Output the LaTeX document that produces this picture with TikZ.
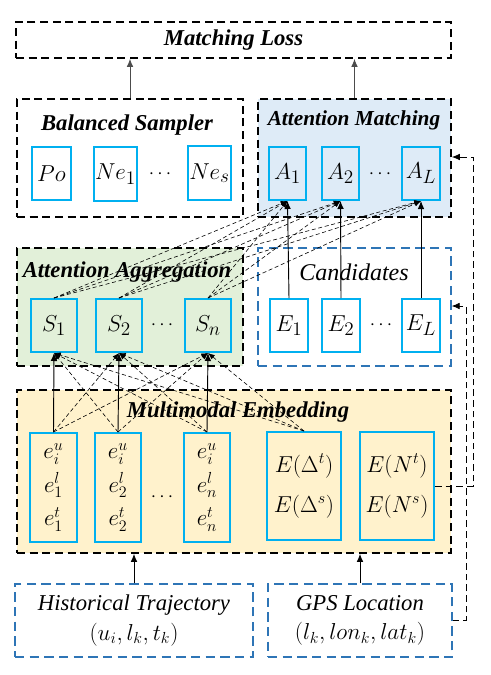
\documentclass[tikz,border=0pt]{standalone}
\usepackage{fontspec}
\setmainfont{Liberation Serif}
\usetikzlibrary{arrows.meta}
\definecolor{cellblue}{RGB}{0,176,240}
\definecolor{inblue}{RGB}{46,117,182}
\definecolor{fillam}{RGB}{222,235,247}
\definecolor{fillaa}{RGB}{226,240,217}
\definecolor{fillme}{RGB}{255,242,204}
\begin{document}
\begin{tikzpicture}[x=0.75pt,y=-0.75pt,
    sz/.style 2 args={minimum width=#1*0.75pt,minimum height=#2*0.75pt,inner sep=0pt},
    grp/.style={draw,line width=1.3pt,dash pattern=on 6pt off 3.5pt},
    inp/.style={draw=inblue,line width=1.1pt,dash pattern=on 7pt off 4pt},
    cell/.style={draw=cellblue,line width=1.5pt,inner sep=0pt,font=\fontsize{19}{22}\selectfont},
    stack/.style={cell,align=center,font=\fontsize{17}{25}\selectfont},
    ttl/.style={font=\fontsize{17}{20}\selectfont\bfseries\itshape},
    txt/.style={font=\fontsize{17}{22}\selectfont,align=center},
    lnk/.style={-{Latex[length=6pt,width=5pt]},line width=0.7pt},
    att/.style={-{Latex[length=5pt,width=4pt]},line width=0.45pt,dash pattern=on 3pt off 2pt},
    fb/.style={-{Latex[length=6pt,width=5pt]},line width=0.6pt,dash pattern=on 5pt off 3pt}]
  \useasboundingbox (0,0) rectangle (490,675);
  % groups
  \node[grp,sz={435}{36}] (loss) at (233.5,40) {};
  \node[ttl] at (loss) {Matching Loss};
  \node[grp,sz={226}{118}] (bs) at (130,158) {};
  \node[grp,fill=fillam,sz={193}{118}] (am) at (354.5,158) {};
  \node[grp,fill=fillaa,sz={226}{118}] (aa) at (130,307) {};
  \node[inp,sz={193}{118}] (cand) at (354.5,307) {};
  \node[grp,fill=fillme,sz={434}{163}] (me) at (234,471.5) {};
  \node[inp,sz={238}{73}] (ht) at (134,620.5) {};
  \node[inp,sz={184}{73}] (gps) at (360,620.5) {};
  \node[ttl] at (127,125) {Balanced Sampler};
  \node[ttl,font=\fontsize{16}{20}\selectfont\bfseries\itshape] at (354,120) {Attention Matching};
  \node[ttl] at (127,272) {Attention Aggregation};
  \node[txt,font=\fontsize{18}{20}\selectfont\itshape] at (354,272) {Candidates};
  \node[ttl] at (238,412) {Multimodal Embedding};
  \node[txt] at (ht) {\textit{Historical Trajectory}\\$(u_i,l_k,t_k)$};
  \node[txt] at (gps) {\textit{GPS Location}\\$(l_k,lon_k,lat_k)$};
  % cells
  \node[cell,sz={39}{53}] (po) at (51.5,173.5) {$Po$};
  \node[cell,sz={43}{54}] (ne1) at (115.5,174) {$Ne_1$};
  \node[cell,sz={43}{54}] (nes) at (209.5,173) {$Ne_s$};
  \node[cell,sz={37}{53}] (a1) at (287.5,173.5) {$A_1$};
  \node[cell,sz={37}{53}] (a2) at (340.5,173.5) {$A_2$};
  \node[cell,sz={38}{53}] (aL) at (421,173.5) {$A_L$};
  \node[cell,sz={46}{53}] (s1) at (54,325.5) {$S_1$};
  \node[cell,sz={46}{53}] (s2) at (119,325.5) {$S_2$};
  \node[cell,sz={46}{53}] (sn) at (208,325.5) {$S_n$};
  \node[cell,sz={38}{53}] (e1) at (289,325.5) {$E_1$};
  \node[cell,sz={38}{53}] (e2) at (341,325.5) {$E_2$};
  \node[cell,sz={38}{53}] (eL) at (421,325.5) {$E_L$};
  \node[stack,sz={47}{109}] (m1) at (53.5,487.5) {$e_i^u$\\$e_1^l$\\$e_1^t$};
  \node[stack,sz={46}{109}] (m2) at (118,487.5) {$e_i^u$\\$e_2^l$\\$e_2^t$};
  \node[stack,sz={46}{109}] (mn) at (207,487.5) {$e_i^u$\\$e_n^l$\\$e_n^t$};
  \node[stack,sz={74}{108},font=\fontsize{18}{30}\selectfont] (md) at (304,486) {$E(\Delta^t)$\\$E(\Delta^s)$};
  \node[stack,sz={74}{108},font=\fontsize{18}{30}\selectfont] (mN) at (397,486) {$E(N^t)$\\$E(N^s)$};
  \foreach \p in {(160,174),(380,174),(162,325),(381,325),(162,497)}
    \node[font=\fontsize{15}{15}\selectfont] at \p {$\cdots$};
  % connectors
  \draw[lnk,draw=black!70] (bs.north) -- (bs.north |- loss.south);
  \draw[lnk,draw=black!70] (am.north) -- (am.north |- loss.south);
  \draw[lnk] (ht.north) -- (ht.north |- me.south);
  \draw[lnk] (gps.north) -- (gps.north |- me.south);
  \foreach \i in {1,2,L} \draw[lnk] (e\i.north) -- (a\i.south);
  \foreach \i in {1,2,n} {
    \draw[lnk] (m\i.north) -- (s\i.south);
    \foreach \j in {1,2,L} \draw[att] (s\i.north) -- (a\j.south);
    \foreach \j in {1,2,n} {\ifx\i\j\else\draw[att] (m\j.north) -- (s\i.south);\fi}
    \draw[att] (md.north) -- (s\i.south);
  }
  \coordinate (up1) at (473,157);
  \coordinate (up2) at (466,306);
  \draw[fb] (mN.east) -| (up1) -- (am.east |- up1);
  \draw[fb] (gps.east) -| (up2) -- (cand.east |- up2);
\end{tikzpicture}
\end{document}
